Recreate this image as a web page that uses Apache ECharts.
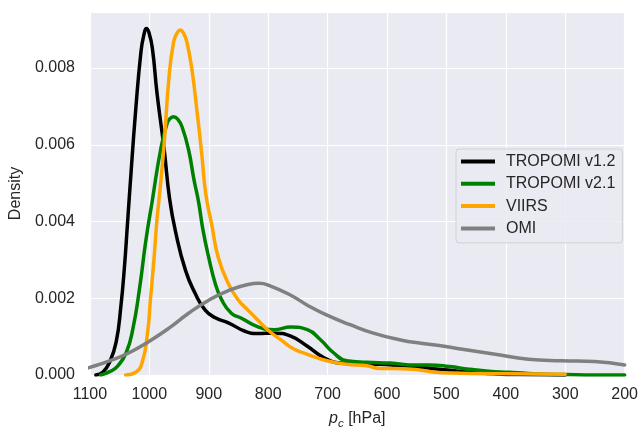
<!DOCTYPE html>
<html>
<head>
<meta charset="utf-8">
<script src="https://cdn.jsdelivr.net/npm/echarts@6/dist/echarts.min.js"></script>
<style>
html,body{margin:0;padding:0;background:#fff;}
#chart{width:641px;height:435px;}
</style>
</head>
<body>
<div id="chart"></div>
<script>
// KDE curves, pressure in hPa, density values
var seriesNames = ['TROPOMI v1.2', 'TROPOMI v2.1', 'VIIRS', 'OMI'];
var seriesColors = ['#000000', '#008000', '#ffa500', '#808080'];

var p_v12 = [1090, 1078, 1067, 1056, 1048, 1042, 1037, 1033, 1023, 1014, 1009, 1005, 1001, 995, 987, 975, 966, 956, 939, 923, 906, 889, 867, 839, 818, 790, 762, 734, 706, 679, 645, 612, 579, 545, 512, 480, 450, 420, 380, 300];
var d_v12 = [0, 0.00008, 0.00033, 0.00085, 0.00178, 0.0028, 0.0039, 0.0048, 0.0069, 0.00844, 0.00888, 0.00903, 0.00894, 0.00852, 0.00733, 0.00587, 0.0046, 0.00374, 0.00272, 0.00213, 0.00169, 0.00149, 0.00136, 0.00114, 0.00108, 0.00109, 0.00101, 0.00075, 0.00045, 0.00031, 0.00028, 0.00028, 0.00024, 0.0002, 0.00015, 0.0001, 0.00006, 0.00003, 0.00001, 0];

var p_v21 = [1082, 1065, 1053, 1039, 1028, 1017, 1006, 995, 981, 970, 964, 959, 952, 945, 934, 925, 917, 910, 900, 889, 878, 862, 845, 818, 790, 762, 734, 712, 690, 668, 634, 595, 551, 529, 495, 462, 429, 395, 362, 330, 300, 250, 200];
var d_v21 = [0, 0.0001, 0.00024, 0.00058, 0.00118, 0.0022, 0.00349, 0.00455, 0.00587, 0.00656, 0.0067, 0.00673, 0.00666, 0.00647, 0.00587, 0.0051, 0.0045, 0.0038, 0.00306, 0.00238, 0.00195, 0.00161, 0.00148, 0.00126, 0.00118, 0.00125, 0.00118, 0.00092, 0.00058, 0.00037, 0.00033, 0.00031, 0.00026, 0.00026, 0.00022, 0.00015, 0.0001, 0.00007, 0.00004, 0.00002, 0.00001, 0, 0];

var p_viirs = [1040, 1023, 1012, 1003, 998, 992, 987, 983, 975, 967, 959, 953, 948, 943, 937, 928, 920, 912, 905, 895, 884, 867, 850, 834, 823, 801, 779, 756, 734, 701, 668, 634, 612, 589, 557, 523, 490, 400, 300];
var d_viirs = [0, 0.00007, 0.00033, 0.0011, 0.002, 0.00306, 0.00408, 0.00468, 0.00604, 0.00775, 0.00869, 0.00892, 0.00899, 0.00892, 0.00869, 0.00792, 0.0069, 0.00579, 0.00472, 0.00392, 0.00306, 0.00238, 0.00195, 0.00169, 0.00152, 0.00118, 0.00092, 0.00067, 0.00054, 0.00037, 0.00028, 0.00024, 0.00017, 0.00017, 0.00015, 0.00008, 0.00005, 0.00003, 0.00002];

var p_omi = [1110, 1100, 1067, 1034, 1000, 967, 934, 900, 867, 834, 815, 801, 762, 734, 701, 662, 623, 579, 540, 512, 473, 418, 362, 306, 251, 200];
var d_omi = [0.00016, 0.0002, 0.00037, 0.00058, 0.00088, 0.00122, 0.00161, 0.00195, 0.0022, 0.00236, 0.00239, 0.00235, 0.00208, 0.00182, 0.00156, 0.00131, 0.00109, 0.00092, 0.00082, 0.00077, 0.00067, 0.00054, 0.00041, 0.00037, 0.00035, 0.00026];

var xTicks = [1100, 1000, 900, 800, 700, 600, 500, 400, 300, 200];
var yTicks = [0, 0.002, 0.004, 0.006, 0.008];

function pairs(p, d) {
	var out = [];
	for (var i = 0; i < p.length; i++) {
		out.push([p[i], d[i]]);
	}
	return out;
}

var allP = [p_v12, p_v21, p_viirs, p_omi];
var allD = [d_v12, d_v21, d_viirs, d_omi];

var font = 'Liberation Sans, Arial, sans-serif';
var txt = '#262626';

var series = [];
for (var k = 0; k < seriesNames.length; k++) {
	series.push({
		name: seriesNames[k],
		type: 'line',
		smooth: 0.5,
		symbol: 'none',
		lineStyle: { width: 3.5, color: seriesColors[k], cap: 'round', join: 'round' },
		itemStyle: { color: seriesColors[k] },
		data: pairs(allP[k], allD[k])
	});
}

var chart = echarts.init(document.getElementById('chart'));
var option = {
	animation: false,
	textStyle: { fontFamily: font },
	grid: {
		left: 87, right: 13, top: 12, bottom: 54,
		show: true, backgroundColor: '#eaeaf2', borderWidth: 0
	},
	legend: {
		data: seriesNames,
		orient: 'vertical',
		left: 456, top: 149,
		icon: 'rect',
		itemWidth: 34, itemHeight: 4,
		itemGap: 6.3,
		padding: [4.5, 7, 6.5, 5],
		backgroundColor: 'rgba(234,234,242,0.85)',
		borderColor: '#d0d0d6', borderWidth: 1, borderRadius: 3,
		textStyle: { fontSize: 16, color: txt, fontFamily: font, padding: [0, 0, 0, 6] }
	},
	xAxis: {
		type: 'value',
		inverse: true,
		min: xTicks[xTicks.length - 1], max: xTicks[0], interval: 100,
		name: '{i|p}{s|c}{n| [hPa]}',
		nameLocation: 'middle',
		nameGap: 33,
		nameTextStyle: {
			color: txt, fontSize: 16, fontFamily: font,
			rich: {
				i: { fontStyle: 'italic', fontSize: 16, color: txt, lineHeight: 22, verticalAlign: 'middle' },
				s: { fontStyle: 'italic', fontSize: 11.5, color: txt, lineHeight: 14, verticalAlign: 'bottom' },
				n: { fontSize: 16, color: txt, lineHeight: 22, verticalAlign: 'middle' }
			}
		},
		axisLine: { show: false },
		axisTick: { show: false },
		axisLabel: {
			color: txt, fontSize: 16, margin: 12,
			formatter: function (v) { return String(v); }
		},
		splitLine: { lineStyle: { color: '#ffffff', width: 1.2 } }
	},
	yAxis: {
		type: 'value',
		min: yTicks[0], max: 0.00946, interval: 0.002,
		name: 'Density',
		nameLocation: 'middle',
		nameGap: 57,
		nameTextStyle: { color: txt, fontSize: 16, fontFamily: font },
		axisLine: { show: false },
		axisTick: { show: false },
		axisLabel: {
			color: txt, fontSize: 16, margin: 15, showMaxLabel: false,
			formatter: function (v) { return v.toFixed(3); }
		},
		splitLine: { lineStyle: { color: '#ffffff', width: 1.2 } }
	},
	series: series
};
chart.setOption(option);
</script>
</body>
</html>
